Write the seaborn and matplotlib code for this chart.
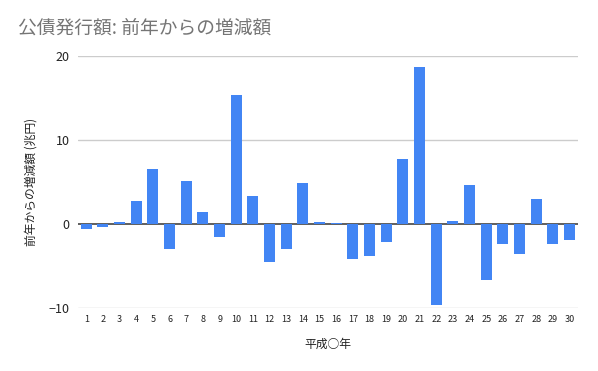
import pandas as pd
import numpy as np
import matplotlib
matplotlib.use("Agg")
import matplotlib.pyplot as plt
import seaborn as sns

# ------------------------------------------------------------
# DATA
# ------------------------------------------------------------
years = list(range(1, 31))
change = [-0.6, -0.3, 0.25, 2.7, 6.55, -3.0, 5.1, 1.45, -1.5, 15.35,
          3.3, -4.55, -3.0, 4.9, 0.25, 0.12, -4.2, -3.85, -2.2, 7.75,
          18.7, -9.7, 0.35, 4.65, -6.7, -2.4, -3.6, 3.0, -2.4, -1.95]

df = pd.DataFrame({"year": [str(y) for y in years], "change": change})

# ------------------------------------------------------------
# STYLE
# ------------------------------------------------------------
sns.set_style("white")
plt.rcParams["font.family"] = ["Noto Sans CJK JP", "DejaVu Sans"]

fig = plt.figure(figsize=(5.98, 3.71), dpi=100)
ax = fig.add_axes([0.1304, 0.1698, 0.836, 0.6792])

sns.barplot(data=df, x="year", y="change", color="#4285F4",
            saturation=1, width=0.66, ax=ax, zorder=3,
            edgecolor="none", linewidth=0)

ax.set_xlim(-0.5, 29.5)
ax.set_ylim(-10, 20)
ax.set_yticks([-10, 0, 10, 20])

for v in [-10, 10, 20]:
    ax.axhline(v, color="#cccccc", linewidth=1, zorder=1)
ax.axhline(0, color="#333333", linewidth=1.1, zorder=2)

for s in ax.spines.values():
    s.set_visible(False)

ax.tick_params(axis="x", labelsize=6.5, length=0, pad=5, colors="#222222")
ax.tick_params(axis="y", labelsize=9, length=0, pad=6, colors="#222222")

ax.set_xlabel("平成○年", fontsize=8.5, color="#222222", labelpad=10)
ax.set_ylabel("前年からの増減額 (兆円)", fontsize=8.5, color="#222222", labelpad=8)

fig.text(0.03, 0.925, "公債発行額: 前年からの増減額", fontsize=13.5,
         color="#757575", ha="left", va="center")

plt.savefig("out.png", dpi=100)
